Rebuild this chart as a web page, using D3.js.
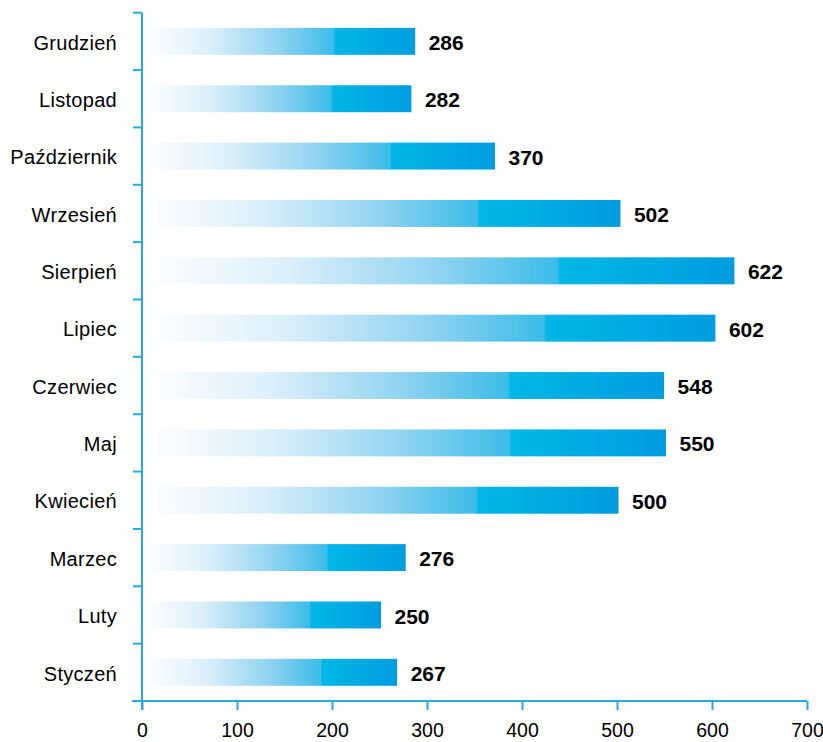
<!DOCTYPE html>
<html>
<head>
<meta charset="utf-8">
<script src="https://cdn.jsdelivr.net/npm/d3@7"></script>
<style>
  body { margin: 0; background: #fff; }
  svg { display: block; font-family: "Liberation Sans", Arial, Helvetica, sans-serif; }
</style>
</head>
<body>
<div id="chart"></div>
<script>
// months from bottom to top
var months = ["Styczeń", "Luty", "Marzec", "Kwiecień", "Maj", "Czerwiec",
              "Lipiec", "Sierpień", "Wrzesień", "Październik", "Listopad", "Grudzień"];
var values = [267, 250, 276, 500, 550, 548, 602, 622, 502, 370, 282, 286];
var xTicks = [0, 100, 200, 300, 400, 500, 600, 700];

var W = 823, H = 742;
var axisColor = "#29a9e0";

var svg = d3.select("#chart").append("svg")
  .attr("width", W)
  .attr("height", H);

var x = d3.scaleLinear().domain([0, 700]).range([142, 807]);
var y = d3.scaleBand().domain(months).range([701, 12.7]).padding(0);
var barH = y.bandwidth() * 0.47;

// gradient per bar, fades from white at the left
var grad = svg.append("defs").append("linearGradient")
  .attr("id", "barGrad")
  .attr("x1", "0%").attr("x2", "100%")
  .attr("y1", "0%").attr("y2", "0%");
[[0, "#ffffff"], [0.25, "#dbeffa"], [0.5, "#8fd3f1"], [0.70, "#3cbce9"],
 [0.705, "#00b7e6"], [1, "#009ddf"]].forEach(function(s){
  grad.append("stop").attr("offset", s[0]).attr("stop-color", s[1]);
});

var data = months.map(function(m, i){ return {m: m, v: values[i]}; });

svg.selectAll(".bar").data(data).enter().append("rect")
  .attr("class", "bar")
  .attr("x", x(0) + 1.5)
  .attr("y", function(d){ return y(d.m) + (y.bandwidth() - barH) / 2; })
  .attr("width", function(d){ return x(d.v) - x(0); })
  .attr("height", barH)
  .style("fill", "url(#barGrad)");

svg.selectAll(".val").data(data).enter().append("text")
  .attr("class", "val")
  .attr("x", function(d){ return x(d.v) + 15; })
  .attr("y", function(d){ return y(d.m) + y.bandwidth() / 2 + 1; })
  .attr("dy", "0.36em")
  .style("font-size", "21px")
  .style("font-weight", "bold")
  .style("fill", "#000")
  .text(function(d){ return d.v; });

// x axis
var xAxis = svg.append("g")
  .attr("transform", "translate(0,701)")
  .call(d3.axisBottom(x).tickValues(xTicks).tickSize(9).tickSizeOuter(0).tickPadding(13));
xAxis.select(".domain").remove();
xAxis.append("line")
  .attr("x1", x(0) - 10).attr("x2", x(700))
  .attr("stroke", axisColor).attr("stroke-width", 2);
xAxis.selectAll(".tick line").attr("stroke", axisColor).attr("stroke-width", 2);
xAxis.selectAll(".tick text")
  .style("font-size", "19.5px")
  .style("fill", "#000")
  .style("font-family", "'Liberation Sans', Arial, sans-serif");

// y axis
svg.append("line")
  .attr("x1", x(0)).attr("x2", x(0))
  .attr("y1", 12.7).attr("y2", 710)
  .attr("stroke", axisColor).attr("stroke-width", 2);

var bounds = months.map(function(m){ return y(m); });
svg.selectAll(".ytick").data(bounds).enter().append("line")
  .attr("class", "ytick")
  .attr("x1", x(0) - 9).attr("x2", x(0))
  .attr("y1", function(d){ return d; })
  .attr("y2", function(d){ return d; })
  .attr("stroke", axisColor).attr("stroke-width", 2);

svg.selectAll(".ylab").data(months).enter().append("text")
  .attr("class", "ylab")
  .attr("x", 117)
  .attr("y", function(m){ return y(m) + y.bandwidth() / 2 + 1; })
  .attr("dy", "0.36em")
  .attr("text-anchor", "end")
  .style("font-size", "20px")
  .style("letter-spacing", "0.3px")
  .style("fill", "#000")
  .text(function(m){ return m; });
</script>
</body>
</html>
